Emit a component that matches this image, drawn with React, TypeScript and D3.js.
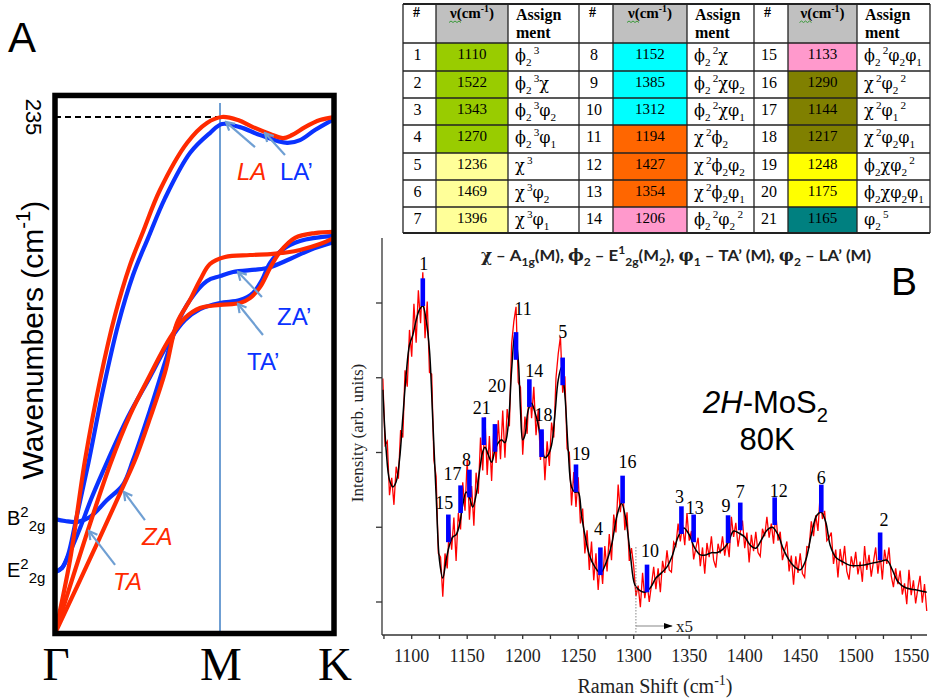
import React from 'react';
import * as d3 from 'd3';

const SERIF = '"Liberation Serif", "Times New Roman", serif';
const SANS = '"Liberation Sans", Arial, sans-serif';
const GREEK = '"DejaVu Serif", serif';

// ---------------- Panel A : dispersion (q: Γ=0, M=1, K=2 ; cm-1) ----------------
const pathLabels = ['Γ', 'M', 'K'];
const laRed: [number, number][] = [[0,0],[0.091,33.4],[0.182,78.9],[0.273,115.3],[0.364,144.9],[0.455,167.7],[0.533,182.7],[0.636,201.8],[0.8,223.2],[0.921,232.3],[1.018,235],[1.158,233.6],[1.289,230.4],[1.439,227.3],[1.553,225.4],[1.632,226.8],[1.746,230.4],[1.877,233.6],[2,235]];
const laBlue: [number, number][] = [[0,28],[0.042,29.8],[0.079,35.7],[0.127,51.6],[0.2,76.7],[0.291,110.8],[0.382,140.4],[0.473,163.1],[0.564,179.9],[0.667,198.1],[0.818,218.6],[0.939,227.7],[1.018,231.8],[1.175,230.4],[1.351,226.8],[1.588,223.2],[1.702,224.5],[1.833,229.1],[2,234.1]];
const taRed: [number, number][] = [[0,0],[0.2,47.1],[0.333,76.7],[0.455,99.5],[0.576,117.6],[0.697,134.5],[0.788,143.6],[0.879,148.1],[1,149.5],[1.175,150.4],[1.263,152.6],[1.351,157.6],[1.439,166.3],[1.526,173.6],[1.658,180],[1.833,182.2],[2,182.7]];
const taBlue: [number, number][] = [[0,28],[0.042,29.8],[0.091,37.1],[0.152,48],[0.224,62.1],[0.321,78.9],[0.442,98.5],[0.576,116.7],[0.697,133.5],[0.788,142.6],[0.879,147.6],[1,150.4],[1.175,151.7],[1.289,154.9],[1.368,160.8],[1.439,168.6],[1.544,174.5],[1.702,178.6],[2,180.9]];
const zaRed: [number, number][] = [[0,0],[0.152,24.3],[0.273,43.9],[0.412,66.7],[0.485,78.9],[0.576,98],[0.667,118.9],[0.739,141.3],[0.818,151.7],[0.879,160.8],[0.939,168.1],[1.044,171.3],[1.263,172.2],[1.465,172.7],[1.702,174.5],[1.877,177.2],[2,180]];
const zaBlue: [number, number][] = [[0,52.1],[0.061,51.2],[0.133,50.7],[0.212,53],[0.315,60.7],[0.412,67.7],[0.473,78.9],[0.576,101.7],[0.667,123.5],[0.739,140.4],[0.818,151.7],[0.921,160.4],[1,162.6],[1.114,164.5],[1.412,166.3],[1.614,170.4],[1.789,174.5],[2,178.1]];
const laMaxValue = 235;
const gammaModes = [
  { base: 'B', sup: '2', sub: '2g', f: 52.5 },
  { base: 'E', sup: '2', sub: '2g', f: 28.9 },
];
// branch labels [text, q, f, colour, italic]
const branchLabels: [string, number, number, string, boolean][] = [
  ['LA', 1.149, 206.3, 'red', true],
  ['LA’', 1.526, 206.3, 'blue', false],
  ['ZA’', 1.5, 140.4, 'blue', false],
  ['TA’', 1.237, 119.9, 'blue', false],
  ['ZA', 0.527, 40.3, 'red', true],
  ['TA', 0.352, 19.8, 'red', true],
];
// annotation arrows [q0,f0,q1,f1]
const branchArrows: [number, number, number, number][] = [
  [1.307, 221.3, 1.053, 232.7],
  [1.57, 217.7, 1.395, 227.7],
  [1.368, 153.1, 1.158, 164.5],
  [1.377, 135.8, 1.158, 149.9],
  [0.545, 51.6, 0.418, 64.4],
  [0.364, 31.2, 0.206, 46.6],
];

// ---------------- Table ----------------
const peakIds = d3.range(1, 22);
const peakFreqs = [1110, 1522, 1343, 1270, 1236, 1469, 1396, 1152, 1385, 1312, 1194, 1427, 1354, 1206, 1133, 1290, 1144, 1217, 1248, 1175, 1165];
const peakAssign = ['ϕ_2^3', 'ϕ_2^3χ', 'ϕ_2^3φ_2', 'ϕ_2^3φ_1', 'χ^3', 'χ^3φ_2', 'χ^3φ_1', 'ϕ_2^2χ', 'ϕ_2^2χφ_2', 'ϕ_2^2χφ_1', 'χ^2ϕ_2', 'χ^2ϕ_2φ_2', 'χ^2ϕ_2φ_1', 'ϕ_2^2φ_2^2', 'ϕ_2^2φ_2φ_1', 'χ^2φ_2^2', 'χ^2φ_1^2', 'χ^2φ_2φ_1', 'ϕ_2χφ_2^2', 'ϕ_2χφ_2φ_1', 'φ_2^5'];
const peakGroup = [0, 0, 0, 0, 1, 1, 1, 2, 2, 2, 3, 3, 3, 4, 4, 5, 5, 5, 6, 6, 7];
const groupColors = ['#99cc00', '#ffff99', '#00ffff', '#ff6600', '#ff99cc', '#808000', '#ffff00', '#008080'];

// ---------------- Panel B : Raman spectrum ----------------
const smoothSpectrum: [number, number][] = [[1074,3.84],[1077,3.03],[1080,2.63],[1083,2.54],[1086,2.61],[1089,2.90],[1092,3.47],[1095,4.04],[1098,4.44],[1101,4.57],[1104,4.77],[1107,4.91],[1110,4.96],[1113,4.77],[1116,4.37],[1119,3.43],[1122,2.43],[1125,1.56],[1128,1.32],[1131,1.56],[1134,1.76],[1137,1.87],[1140,1.90],[1143,2.03],[1146,2.30],[1149,2.47],[1152,2.40],[1155,2.27],[1158,2.43],[1161,2.74],[1164,3.01],[1166,3.07],[1169,2.97],[1172,2.87],[1175,3.03],[1178,3.13],[1181,3.17],[1184,3.13],[1187,3.37],[1190,4.10],[1193,4.60],[1196,4.24],[1198,3.57],[1200,3.17],[1202,3.23],[1205,3.57],[1208,3.66],[1211,3.54],[1214,3.37],[1217,3.10],[1220,2.93],[1223,2.97],[1226,3.10],[1229,3.50],[1232,3.97],[1235,4.14],[1238,3.77],[1241,3.03],[1244,2.54],[1247,2.47],[1250,2.47],[1253,2.16],[1256,1.90],[1260,1.63],[1265,1.47],[1270,1.39],[1275,1.52],[1280,1.76],[1285,2.16],[1289,2.32],[1293,2.10],[1297,1.63],[1301,1.23],[1305,1.16],[1310,1.13],[1315,1.19],[1320,1.32],[1325,1.39],[1330,1.47],[1335,1.63],[1340,1.87],[1345,1.99],[1350,1.90],[1355,1.72],[1360,1.63],[1365,1.63],[1370,1.66],[1375,1.66],[1380,1.70],[1385,1.79],[1390,1.95],[1395,1.92],[1400,1.87],[1405,1.76],[1410,1.72],[1415,1.83],[1420,1.96],[1425,2.00],[1430,1.90],[1435,1.70],[1440,1.56],[1445,1.47],[1450,1.43],[1455,1.56],[1460,1.90],[1465,2.16],[1469,2.20],[1473,2.07],[1477,1.76],[1482,1.60],[1488,1.54],[1495,1.49],[1505,1.49],[1515,1.52],[1522,1.54],[1528,1.56],[1533,1.43],[1538,1.27],[1545,1.19],[1555,1.16],[1564,1.13]];
const rawStart = 1074;
const rawStep = 2;
const rawIntensity = [3.99,3.10,3.15,2.43,2.66,2.30,2.81,2.65,3.30,3.20,4.10,3.88,4.64,4.28,4.99,4.47,5.17,4.73,5.41,4.53,5.02,4.07,4.05,2.90,2.68,1.65,1.60,1.07,1.65,1.45,2.06,1.70,2.13,1.55,2.19,1.97,2.60,2.22,2.90,2.10,2.55,2.02,2.73,2.45,3.20,2.76,3.47,2.70,3.22,2.62,3.33,2.86,3.43,2.91,3.56,2.93,3.58,3.35,4.45,4.75,4.95,3.94,3.87,2.97,3.48,3.25,3.97,3.46,3.88,3.23,3.57,2.90,3.27,2.63,3.15,2.82,3.40,3.20,4.00,4.32,4.55,3.80,4.02,3.05,3.00,2.29,2.74,2.27,2.67,2.05,2.25,1.65,1.96,1.43,1.81,1.29,1.65,1.16,1.59,1.24,1.75,1.41,1.91,1.56,2.17,1.93,2.57,2.20,2.58,1.96,2.20,1.55,1.72,
  1.48,1.08,1.22,0.93,1.39,1.05,1.27,1.00,1.23,1.47,1.17,1.45,1.13,1.55,1.39,1.69,1.43,1.40,1.80,1.75,2.05,1.81,2.03,1.76,2.19,1.82,1.95,1.57,1.72,1.86,1.48,1.73,1.38,1.79,1.60,1.88,1.56,1.46,1.78,1.65,1.88,1.62,1.82,1.60,2.14,1.87,2.06,1.74,1.93,2.09,1.72,1.93,1.53,1.90,1.68,1.94,1.66,1.61,1.98,1.88,2.14,1.86,2.05,1.78,2.20,1.82,1.94,1.56,1.69,1.81,1.41,1.62,1.23,1.61,1.39,1.65,1.38,1.33,1.74,1.73,2.08,1.88,2.16,1.95,2.45,2.11,2.22,1.82,1.86,1.93,1.51,1.70,1.33,1.71,1.49,1.75,1.41,1.30,1.61,1.46,1.67,1.37,1.54,1.27,1.75,1.43,1.63,1.34,1.54,1.73,1.38,1.64,1.30,1.70,1.51,1.73,1.35,1.20,1.45,1.24,1.42,1.10,1.25,0.97,1.43,1.09,1.29,0.98,1.18,1.35,0.99,1.24,0.88];
// intensity at the foot of each blue assignment bar, peaks 1..21
const barBase = [4.96, 1.56, 1.91, 1.36, 3.90, 2.20, 1.96, 2.40, 1.79, 1.13, 4.24, 2.03, 1.80, 3.61, 1.80, 2.32, 2.19, 2.94, 2.47, 3.01, 3.10];
const BAR_LEN = 0.37;
const xTickValues = d3.range(1075, 1551, 25);
const yTickValues = [1, 2, 3, 4, 5];
const x5Start = 1302;

// label nudges (layout): [dx, gap above bar top]
const labelNudge: Record<number, [number, number]> = {
  1: [1, 8], 2: [4, 6], 3: [-2, 3], 4: [-2, 12], 5: [0, 20], 6: [0, 1], 7: [0, 5], 8: [-3, 4], 9: [-2, 3], 10: [3, 8],
  11: [7, 17], 12: [4, 0], 13: [1, 1], 14: [5, 2], 15: [-4, 6], 16: [5, 8], 17: [-8, 5], 18: [2, 8], 19: [5, 4], 20: [2, 32], 21: [-2, 3],
};

type Seg = { t: string; s?: 'sub' | 'sup'; ff?: string; it?: boolean };
function rich(segs: Seg[], size: number, scale = 0.68) {
  let cur = 0;
  return segs.map((g, i) => {
    const target = g.s === 'sub' ? size * 0.3 : g.s === 'sup' ? -size * 0.42 : 0;
    const dy = target - cur;
    cur = target;
    return (
      <tspan key={i} dy={dy} fontSize={g.s ? size * scale : size} fontFamily={g.ff} fontStyle={g.it ? 'italic' : undefined}>
        {g.t}
      </tspan>
    );
  });
}
function assignSegs(s: string): Seg[] {
  const segs: Seg[] = [];
  const re = /([ϕφχ])(?:_(\d))?(?:\^(\d))?/g;
  let m: RegExpExecArray | null;
  while ((m = re.exec(s))) {
    segs.push({ t: m[1], ff: GREEK });
    if (m[2]) segs.push({ t: m[2], s: 'sub' });
    if (m[3]) segs.push({ t: '\u2009' + m[3], s: 'sup' });
  }
  return segs;
}

export default function App() {
  // Panel A scales
  const qA = d3.scaleLinear().domain([0, 1, 2]).range([55, 220, 334]);
  const fA = d3.scaleLinear().domain([0, 235]).range([633.5, 117]);
  const disp = d3.line<[number, number]>().x((d) => qA(d[0])).y((d) => fA(d[1])).curve(d3.curveCatmullRom.alpha(0.5));
  const RED = '#ff2a00';
  const BLUE = '#0a32ff';
  const ARROW = '#6f9fd3';

  // Panel B scales
  const xS = d3.scaleLinear().domain([1100, 1550]).range([411.7, 911.2]);
  const yS = d3.scaleLinear().domain([1, 5]).range([602, 303]);
  const axL = 382, axB = 635, axT = 238, axR = 927;
  const smoothLine = d3.line<[number, number]>().x((d) => xS(d[0])).y((d) => yS(d[1])).curve(d3.curveCatmullRom.alpha(0.5));
  const rawLine = d3.line<number>().x((_, i) => xS(rawStart + i * rawStep)).y((d) => yS(d));

  // table layout
  const colX = [[403, 436, 508, 579], [579, 613, 687, 754], [754, 788, 857, 930]];
  const rowY = [4, 43, 71, 98, 125, 153, 180, 207, 233];

  const boxTop = fA(244.8);

  return (
    <div style={{ position: 'absolute', left: 0, top: 0 }}>
      <svg width={931} height={699} style={{ display: 'block', background: '#fff' }}>
        <defs>
          <marker id="arrA" viewBox="0 0 12 12" refX="10" refY="6" markerWidth="12" markerHeight="12" markerUnits="userSpaceOnUse" orient="auto">
            <path d="M2,1.5 L10,6 L2,10.5" fill="none" stroke={ARROW} strokeWidth={2.2} />
          </marker>
          <marker id="arrB" viewBox="0 0 10 10" refX="9" refY="5" markerWidth="9" markerHeight="9" markerUnits="userSpaceOnUse" orient="auto">
            <path d="M0,1.5 L10,5 L0,8.5 Z" fill="#000" />
          </marker>
          <clipPath id="boxClip">
            <rect x={qA(0)} y={boxTop} width={qA(2) - qA(0)} height={fA(0) - boxTop} />
          </clipPath>
        </defs>

        {/* ================= Panel A ================= */}
        <text x={8} y={52} fontFamily={SANS} fontSize={42}>A</text>
        <line x1={qA(1)} x2={qA(1)} y1={103} y2={fA(0)} stroke={ARROW} strokeWidth={2} />
        <line x1={qA(0)} x2={qA(1)} y1={fA(laMaxValue)} y2={fA(laMaxValue)} stroke="#000" strokeWidth={2} strokeDasharray="6,4" />
        <g clipPath="url(#boxClip)" fill="none" strokeWidth={4.2} strokeLinecap="round">
          <path d={disp(laBlue) || ''} stroke={BLUE} />
          <path d={disp(taBlue) || ''} stroke={BLUE} />
          <path d={disp(zaBlue) || ''} stroke={BLUE} />
          <path d={disp(laRed) || ''} stroke={RED} />
          <path d={disp(taRed) || ''} stroke={RED} />
          <path d={disp(zaRed) || ''} stroke={RED} />
        </g>
        <rect x={qA(0)} y={boxTop} width={qA(2) - qA(0)} height={fA(0) - boxTop} fill="none" stroke="#000" strokeWidth={5.5} />
        {branchArrows.map((a, i) => (
          <line key={i} x1={qA(a[0])} y1={fA(a[1])} x2={qA(a[2])} y2={fA(a[3])} stroke={ARROW} strokeWidth={2.2} markerEnd="url(#arrA)" />
        ))}
        {branchLabels.map((l, i) => (
          <text key={i} x={qA(l[1])} y={fA(l[2])} fontFamily={SANS} fontSize={24} fill={l[3] === 'red' ? RED : BLUE} fontStyle={l[4] ? 'italic' : 'normal'}>{l[0]}</text>
        ))}
        <text transform={`translate(26,${fA(laMaxValue)}) rotate(90)`} textAnchor="middle" fontFamily={SANS} fontSize={22}>{laMaxValue}</text>
        <text transform="translate(43,340) rotate(-90)" textAnchor="middle" fontFamily={SANS} fontSize={30}>
          {rich([{ t: 'Wavenumbers (cm' }, { t: '-1', s: 'sup' }, { t: ')' }], 30)}
        </text>
        {gammaModes.map((g, i) => (
          <text key={i} x={7} y={fA(g.f) + 7} fontFamily={SANS} fontSize={20}>
            {rich([{ t: g.base }, { t: g.sup, s: 'sup' }, { t: g.sub, s: 'sub' }], 20, 0.75)}
          </text>
        ))}
        {pathLabels.map((p, i) => (
          <text key={p} x={qA(i) + 1} y={680} textAnchor="middle" fontFamily={SERIF} fontSize={47}>{p}</text>
        ))}

        {/* ================= Table ================= */}
        {colX.map((c, b) => (
          <g key={b}>
            <rect x={c[1]} y={rowY[0]} width={c[2] - c[1]} height={rowY[1] - rowY[0]} fill="#c0c0c0" />
            {d3.range(7).map((r) => {
              const idx = b * 7 + r;
              return <rect key={r} x={c[1]} y={rowY[r + 1]} width={c[2] - c[1]} height={rowY[r + 2] - rowY[r + 1]} fill={groupColors[peakGroup[idx]]} />;
            })}
            <text x={c[0] + 10} y={17} fontFamily={SERIF} fontWeight="bold" fontSize={14}>#</text>
            <text x={(c[1] + c[2]) / 2} y={18} textAnchor="middle" fontFamily={SERIF} fontWeight="bold" fontSize={15}>
              {rich([{ t: 'ν' }, { t: '(cm' }, { t: '-1', s: 'sup' }, { t: ')' }], 15, 0.65)}
            </text>
            <path d={`M${(c[1] + c[2]) / 2 - 23},22.5 l2,-1.5 l2,1.5 l2,-1.5 l2,1.5 l2,-1.5 l2,1.5`} fill="none" stroke="#3a9a3a" strokeWidth={1} />
            <text x={c[2] + 8} y={20} fontFamily={SERIF} fontWeight="bold" fontSize={16}>Assign</text>
            <text x={c[2] + 8} y={38} fontFamily={SERIF} fontWeight="bold" fontSize={16}>ment</text>
            {d3.range(7).map((r) => {
              const idx = b * 7 + r;
              const y0 = rowY[r + 1];
              return (
                <g key={'t' + r}>
                  <text x={(c[0] + c[1]) / 2 - 2} y={y0 + 17} textAnchor="middle" fontFamily={SERIF} fontSize={16}>{peakIds[idx]}</text>
                  <text x={(c[1] + c[2]) / 2} y={y0 + 16} textAnchor="middle" fontFamily={SERIF} fontSize={15}>{peakFreqs[idx]}</text>
                  <text x={c[2] + 7} y={y0 + 18} fontFamily={SERIF} fontSize={16}>{rich(assignSegs(peakAssign[idx]), 16, 0.7)}</text>
                </g>
              );
            })}
          </g>
        ))}
        <g stroke="#222" strokeWidth={1.3}>
          {rowY.map((y, i) => (
            <line key={'h' + i} x1={403} x2={930} y1={y} y2={y} strokeWidth={i === 0 || i === rowY.length - 1 ? 1.8 : 1.3} />
          ))}
          {[403, 436, 508, 579, 613, 687, 754, 788, 857, 930].map((x, i) => (
            <line key={'v' + i} x1={x} x2={x} y1={rowY[0]} y2={rowY[rowY.length - 1]} />
          ))}
        </g>

        {/* ================= Panel B ================= */}
        <text x={481} y={261} fontFamily='Lato, "Open Sans", sans-serif' fontWeight="bold" fontSize={16} fill="#222" textLength={390} lengthAdjust="spacingAndGlyphs">
          {rich([
            { t: 'χ', ff: GREEK }, { t: ' – A' }, { t: '1g', s: 'sub' }, { t: '(M), ' }, { t: 'ϕ', ff: GREEK }, { t: '2', s: 'sub' },
            { t: ' –  E' }, { t: '1', s: 'sup' }, { t: '2g', s: 'sub' }, { t: '(M' }, { t: '2', s: 'sub' }, { t: '), ' },
            { t: 'φ', ff: GREEK }, { t: '1', s: 'sub' }, { t: ' – TA’ (M), ' }, { t: 'φ', ff: GREEK }, { t: '2', s: 'sub' }, { t: ' – LA’ (M)' },
          ], 16, 0.72)}
        </text>
        <text x={891} y={295} fontFamily={SANS} fontSize={39}>B</text>
        <text x={703} y={413} fontFamily={SANS} fontSize={31}>
          {rich([{ t: '2H', it: true }, { t: '-MoS' }, { t: '2', s: 'sub' }], 31, 0.65)}
        </text>
        <text x={767} y={450} textAnchor="middle" fontFamily={SANS} fontSize={31}>80K</text>

        {/* spectrum */}
        <path d={rawLine(rawIntensity) || ''} fill="none" stroke="#ff0000" strokeWidth={1.3} />
        <path d={smoothLine(smoothSpectrum) || ''} fill="none" stroke="#000" strokeWidth={1.5} />
        {peakIds.map((id, i) => {
          const x = xS(peakFreqs[i]);
          const yb = yS(barBase[i]);
          const yt = yS(barBase[i] + BAR_LEN);
          const [dx, gap] = labelNudge[id];
          return (
            <g key={id}>
              <rect x={x - 2.3} y={yt} width={4.6} height={yb - yt} fill="#0000ff" />
              <text x={x + dx} y={yt - gap} textAnchor="middle" fontFamily={SERIF} fontSize={18}>{id}</text>
            </g>
          );
        })}

        {/* axes */}
        <g stroke="#333" strokeWidth={1.3}>
          <line x1={axL} x2={axL} y1={axT} y2={axB} />
          <line x1={axL} x2={axR} y1={axB} y2={axB} />
          {yTickValues.map((v) => (
            <line key={v} x1={axL - 6} x2={axL} y1={yS(v)} y2={yS(v)} />
          ))}
          {xTickValues.map((v) => (
            <line key={v} x1={xS(v)} x2={xS(v)} y1={axB} y2={axB + 4} />
          ))}
        </g>
        {xTickValues.filter((v) => v % 50 === 0).map((v) => (
          <text key={v} x={xS(v)} y={662} textAnchor="middle" fontFamily={SERIF} fontSize={18} fill="#222">{v}</text>
        ))}
        <text x={655} y={693} textAnchor="middle" fontFamily={SERIF} fontSize={20} fill="#222">
          {rich([{ t: 'Raman Shift (cm' }, { t: '-1', s: 'sup' }, { t: ')' }], 20, 0.7)}
        </text>
        <text transform="translate(363,433) rotate(-90)" textAnchor="middle" fontFamily={SERIF} fontSize={17} fill="#222">Intensity (arb. units)</text>

        {/* x5 marker */}
        <line x1={xS(x5Start)} x2={xS(x5Start)} y1={547} y2={axB} stroke="#888" strokeWidth={1} strokeDasharray="1.5,1.5" />
        <line x1={xS(x5Start)} x2={xS(x5Start) + 36} y1={626} y2={626} stroke="#888" strokeWidth={1.2} markerEnd="url(#arrB)" />
        <text x={xS(x5Start) + 40} y={632} fontFamily={SERIF} fontSize={17} fill="#222">x5</text>
      </svg>
    </div>
  );
}
